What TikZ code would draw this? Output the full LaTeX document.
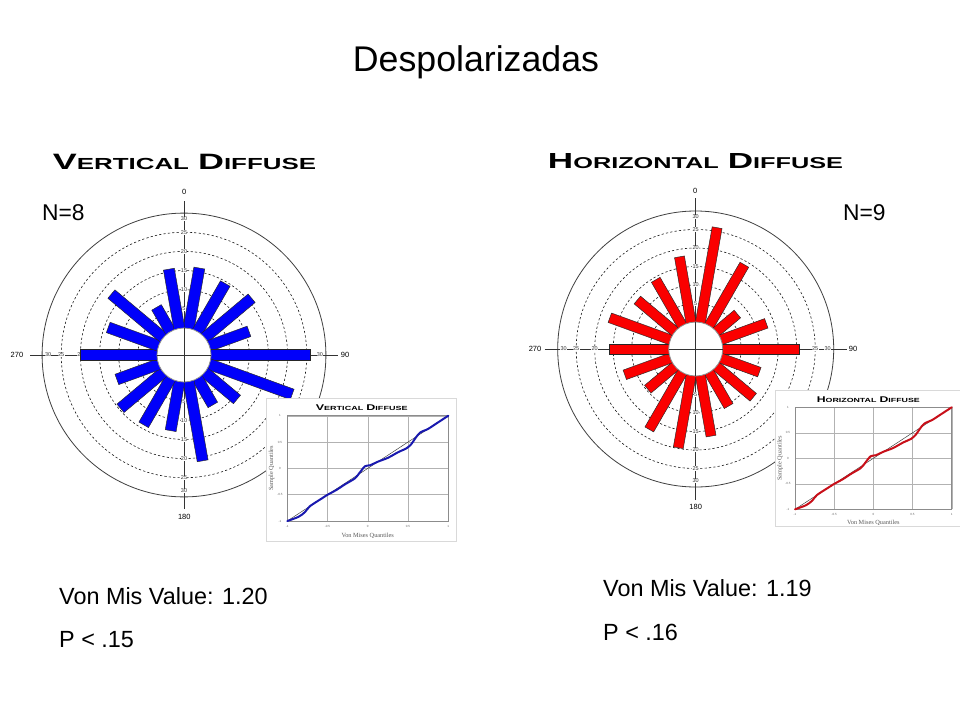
\documentclass[tikz,border=0pt]{standalone}
\usepackage{fontspec}
\setmainfont{Liberation Sans}
\newfontfamily\serifx{Liberation Serif}
\usepackage{graphicx}

\definecolor{barblue}{RGB}{0,0,250}
\definecolor{barred}{RGB}{250,0,0}
\definecolor{curveblue}{RGB}{25,25,175}
\definecolor{curvered}{RGB}{200,15,25}

\tikzset{
  ringdash/.style={draw=black!90, line width=0.6pt, dash pattern=on 2.2pt off 2.2pt},
  ringsolid/.style={draw=black!75, line width=0.8pt},
  axisline/.style={draw=black!80, line width=0.7pt},
  ticklab/.style={font=\fontsize{5.5}{5.5}\selectfont, fill=white, inner sep=0.3pt, text=black!80},
  dirlab/.style={font=\fontsize{7.5}{7.5}\selectfont, inner sep=0.5pt},
  rosebar/.style={draw=black!85, line width=0.45pt},
  innercirc/.style={fill=white, draw=black!45, line width=0.8pt},
  bigtext/.style={font=\fontsize{23.4}{23.4}\selectfont, inner sep=0pt, anchor=base west},
  titletext/.style={font=\fontsize{35.7}{35.7}\selectfont, inner sep=0pt, anchor=base},
  headtext/.style={inner sep=0pt, anchor=base},
  insetbox/.style={draw=black!15, fill=white, line width=0.6pt},
  gridl/.style={draw=black!30, line width=0.4pt},
  framel/.style={draw=black!45, line width=0.5pt},
  qtick/.style={font=\fontsize{3}{3}\selectfont, text=black!60, inner sep=0pt},
  qaxis/.style={font=\serifx\fontsize{6.3}{6.3}\selectfont, text=black!65, inner sep=0pt},
  diagl/.style={draw=black!80, line width=0.45pt},
}

% #1 prefix, #2 cx, #3 cy, #4 r0, #5 k, #6 bar width, #7 colour, #8 data, #9 axis half length
\newcommand\roseplot[9]{%
\begin{scope}[shift={(#2,#3)}, x=1pt, y=1pt]
  \draw[ringsolid] (0,0) circle ({#4+30*#5});
  \foreach \v in {5,10,15,20,25} \draw[ringdash] (0,0) circle ({#4+\v*#5});
  \draw[axisline] (-#9,0) -- (#9,0);
  \draw[axisline] (0,-#9) -- (0,#9);
  \foreach \v in {5,10,15,20,25} {
    \foreach \ang in {0,90,180,270}
      \node[ticklab] (#1-t\v-\ang) at (\ang:{#4+\v*#5}) {\v};
  }
  \foreach \ang in {0,90,180,270}
    \node[ticklab] (#1-t30-\ang) at (\ang:{#4+30*#5-6}) {30};
  \foreach \a/\v in {#8}
    \draw[rosebar, fill=#7, rotate={90-\a}] (0,-#6/2) rectangle ({#4+\v*#5},#6/2);
  \draw[innercirc] (0,0) circle (#4);
  \draw[axisline] (-#4,0) -- (#4,0) (0,-#4) -- (0,#4);
\end{scope}}

% #1 prefix, #2 left, #3 top, #4 right, #5 bottom, #6 colour
\newcommand\qqplot[6]{%
\pgfmathsetmacro\qqcx{(#2+#4)/2}%
\pgfmathsetmacro\qqcy{(#3+#5)/2}%
\pgfmathsetmacro\qqsx{(#4-#2)/2}%
\pgfmathsetmacro\qqsy{(#5-#3)/2}%
\begin{scope}[shift={(\qqcx,\qqcy)}, x=\qqsx pt, y=\qqsy pt]
  \foreach \g in {-1,-0.5,0,0.5,1} {
    \draw[gridl] (\g,-1) -- (\g,1);
    \draw[gridl] (-1,\g) -- (1,\g);
  }
  \draw[framel] (-1,-1) rectangle (1,1);
  \foreach \g [count=\i] in {-1,-0.5,0,0.5,1} {
    \node[qtick] (#1-y\i) at (-1.09,\g) {\g};
    \node[qtick] (#1-x\i) at (\g,-1.1) {\g};
  }
  \draw[diagl] (-1,-1) -- (1,1);
  \draw[#6, line width=2pt, line join=round, line cap=round]
    plot[smooth, tension=0.5] coordinates {(-1,-1) (-0.86,-0.92) (-0.78,-0.83) (-0.72,-0.72)
      (-0.57,-0.57) (-0.51,-0.51) (-0.39,-0.41) (-0.28,-0.30) (-0.16,-0.19) (-0.10,-0.08)
      (-0.035,0.04) (0.03,0.06) (0.13,0.13) (0.25,0.20) (0.38,0.31) (0.48,0.38) (0.54,0.46)
      (0.59,0.57) (0.65,0.68) (0.75,0.75) (0.85,0.85) (1,1)};
\end{scope}}

\begin{document}
\begin{tikzpicture}[x=1pt, y=-1pt]
\useasboundingbox (0,0) rectangle (960,720);
\fill[white] (0,0) rectangle (960,720);

% title
\node[titletext] (title) at (476,71.7) {Despolarizadas};

% headings
\node[headtext] (headL) at (184.5,169.3) {\resizebox{263pt}{15.3pt}{\bfseries\fontsize{20}{20}\selectfont V\fontsize{14.4}{14.4}\selectfont ERTICAL\hspace{0.35em}\fontsize{20}{20}\selectfont D\fontsize{14.4}{14.4}\selectfont IFFUSE}};
\node[headtext] (headR) at (695.5,168) {\resizebox{295pt}{15pt}{\bfseries\fontsize{20}{20}\selectfont H\fontsize{14.4}{14.4}\selectfont ORIZONTAL\hspace{0.35em}\fontsize{20}{20}\selectfont D\fontsize{14.4}{14.4}\selectfont IFFUSE}};

% roses
\roseplot{L}{184}{355}{27}{3.83}{11}{barblue}{10/16,30/14.5,50/16,70/11,90/26,110/23,130/11,150/8,170/21,190/13,210/14,230/14.6,250/11.6,270/20,290/14,310/17.7,330/7.3,350/15.7}{154}
\roseplot{R}{695.7}{349}{27}{3.7}{10}{barred}{10/26,30/19,50/7.4,70/13,90/20.8,110/11,130/13,150/10.5,170/16.6,190/19.8,210/17.8,230/9.6,250/13.1,270/16,290/17.4,310/13.3,330/14.3,350/18}{151}

% direction labels
\node[dirlab] (L0) at (184.3,192.3) {0};
\node[dirlab] (L180) at (184.3,517) {180};
\node[dirlab] (L270) at (17,355) {270};
\node[dirlab] (L90) at (345,355) {90};
\node[dirlab] (R0) at (695.3,190.7) {0};
\node[dirlab] (R180) at (695.7,506.7) {180};
\node[dirlab] (R270) at (535,349) {270};
\node[dirlab] (R90) at (853,349) {90};

% N labels
\node[bigtext, font=\fontsize{22.8}{22.8}\selectfont] (NL) at (42,220) {N=8};
\node[bigtext, font=\fontsize{22.8}{22.8}\selectfont] (NR) at (843,220) {N=9};

% insets
\draw[insetbox] (266.7,398.3) rectangle (456.7,541.7);
\qqplot{QL}{287.3}{415.7}{448.3}{521}{curveblue}
\node[headtext] (qlt) at (361.7,410.7) {\resizebox{91.7pt}{5.7pt}{\bfseries\fontsize{20}{20}\selectfont V\fontsize{14.4}{14.4}\selectfont ERTICAL\hspace{0.35em}\fontsize{20}{20}\selectfont D\fontsize{14.4}{14.4}\selectfont IFFUSE}};
\node[qaxis] (qlx) at (367.7,535.7) {Von Mises Quantiles};
\node[qaxis, rotate=90] (qly) at (271.7,468.3) {Sample Quantiles};

\draw[insetbox] (775,390) rectangle (961,526.7);
\qqplot{QR}{795}{407.3}{951.7}{509.3}{curvered}
\node[headtext] (qrt) at (868.3,402.3) {\resizebox{103pt}{5.7pt}{\bfseries\fontsize{20}{20}\selectfont H\fontsize{14.4}{14.4}\selectfont ORIZONTAL\hspace{0.35em}\fontsize{20}{20}\selectfont D\fontsize{14.4}{14.4}\selectfont IFFUSE}};
\node[qaxis] (qrx) at (873.3,523.3) {Von Mises Quantiles};
\node[qaxis, rotate=90] (qry) at (780,458.3) {Sample Quantiles};

% bottom texts
\node[bigtext] (vl) at (59,604) {Von Mis Value: 1.20};
\node[bigtext] (pl) at (59,647.7) {P < .15};
\node[bigtext] (vr) at (603,596.5) {Von Mis Value: 1.19};
\node[bigtext] (pr) at (603,640) {P < .16};
\end{tikzpicture}
\end{document}
